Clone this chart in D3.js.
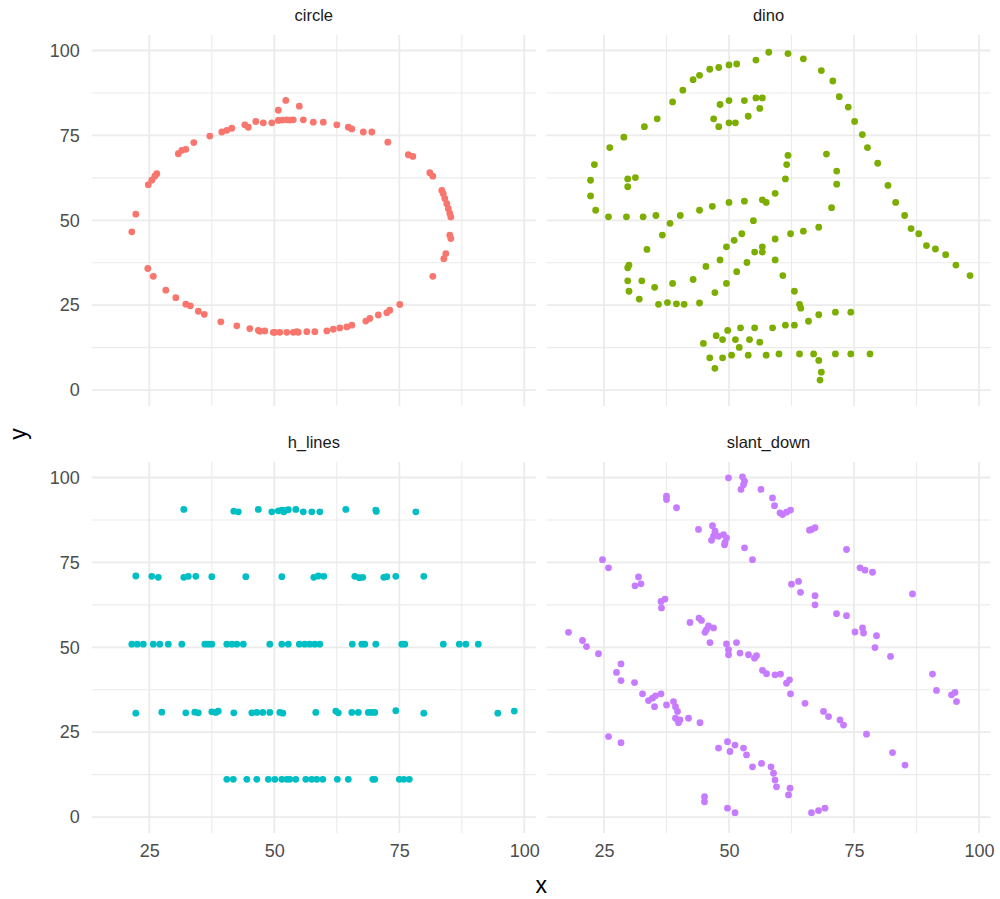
<!DOCTYPE html>
<html>
<head>
<meta charset="utf-8">
<script src="https://cdn.jsdelivr.net/npm/d3@7"></script>
<style>
  html, body { margin: 0; padding: 0; background: #fff; }
  svg { display: block; }
  text { font-family: "Liberation Sans", Arial, sans-serif; }
</style>
</head>
<body>
<svg id="chart" width="1000" height="899"></svg>
<script>
// ---- data: four of the Datasaurus shapes ----
const datasetNames = ["circle", "dino", "h_lines", "slant_down"];
const datasetColors = ["#F8766D", "#7CAE00", "#00BFC4", "#C77CFF"];

const circleX = [52.3,50.8,55.0,44.1,44.8,46.3,47.8,49.5,50.8,52.5,53.8,55.8,57.8,59.8,62.5,64.8,65.5,67.8,69.5,72.7,76.8,77.7,81.1,81.7,83.5,83.8,84.1,84.5,84.8,85.1,85.3,85.1,85.3,84.3,83.9,81.7,75.1,73.1,72.5,70.8,69.1,68.3,65.5,64.5,63.1,61.8,60.5,58.1,56.5,54.5,54.8,53.8,52.5,51.1,49.8,48.1,46.8,45.1,42.5,39.3,36.0,34.8,33.2,32.3,30.3,28.3,25.8,24.7,21.5,22.3,24.8,25.5,26.1,26.5,30.8,31.5,32.3,33.9,37.1,39.5,40.5,41.5,51.6,53.1,47.1,50.1];
const circleY = [85.3,82.4,83.6,78.1,77.4,79.1,78.7,78.7,79.4,79.6,79.6,79.6,78.9,78.9,78.1,77.4,76.9,76.0,76.0,73.0,69.3,68.8,64.0,63.0,58.8,57.8,56.4,54.9,53.4,52.0,51.0,45.6,44.6,40.2,38.7,33.5,25.2,23.5,22.8,22.1,21.1,20.3,19.1,18.6,18.3,17.9,17.4,17.2,17.2,17.2,17.0,17.0,17.0,17.0,17.0,17.4,17.6,18.1,18.9,20.1,22.3,23.2,24.8,25.3,27.2,29.4,33.5,35.8,46.6,51.8,60.5,61.8,63.0,63.7,69.6,70.6,70.9,72.9,74.8,76.0,76.5,77.1,79.5,79.5,17.3,17.0];

const dinoX = [55.3846,51.5385,46.1538,42.8205,40.7692,38.7179,35.6410,33.0769,28.9744,26.1538,23.0769,22.3077,22.3077,23.3333,25.8974,29.4872,32.8205,35.3846,40.2564,44.1026,46.6667,50.0000,53.0769,56.6667,59.2308,61.2821,61.5385,61.7949,57.4359,54.8718,52.5641,48.2051,49.4872,51.0256,45.3846,42.8205,38.7179,35.1282,32.5641,30.0000,33.5897,36.6667,38.2051,29.7436,29.7436,30.0000,32.0513,35.8974,41.0256,44.1026,47.1795,49.4872,51.5385,53.5897,55.1282,56.6667,59.2308,62.3077,64.8718,67.9487,70.5128,71.5385,71.5385,69.4872,46.9231,48.2051,50.0000,53.0769,55.3846,56.6667,56.1538,53.8462,51.2821,50.0000,47.9487,29.7436,29.7436,31.2821,57.9487,61.7949,64.8718,68.4615,70.7692,72.0513,73.8462,75.1282,76.6667,77.6923,79.7436,81.7949,83.3333,85.1282,86.4103,87.9487,89.4872,93.3333,95.3846,98.2051,56.6667,59.2308,60.7692,63.0769,64.1026,64.3590,74.3590,71.2821,67.9487,65.8974,63.0769,61.2821,58.7179,55.1282,52.3077,49.7436,47.4359,44.8718,48.7179,51.2821,54.1026,56.1538,52.0513,48.7179,47.1795,46.1538,50.5128,53.8462,57.4359,60.0000,64.1026,66.9231,71.2821,74.3590,78.2051,67.9487,68.4615,68.2051,37.6923,39.4872,91.2821,50.0000,47.9487,44.1026];
const dinoY = [97.1795,96.0256,94.4872,91.4103,88.3333,84.8718,79.8718,77.5641,74.4872,71.4103,66.4103,61.7949,57.1795,52.9487,51.0256,51.0256,51.0256,51.4103,51.4103,52.9487,54.1026,55.2564,55.6410,56.0256,57.9487,62.1795,66.4103,69.1026,55.2564,49.8718,46.0256,38.3333,42.1795,44.1026,36.4103,32.5641,31.4103,30.2564,32.1795,36.7949,41.4103,45.6410,49.1026,36.0256,32.1795,29.1026,26.7949,25.2564,25.2564,25.6410,28.7180,31.4103,34.8718,37.5641,40.6410,42.1795,44.4872,46.0256,46.7949,47.9487,53.7180,60.6410,64.4872,69.4872,79.8718,84.1026,85.2564,85.2564,86.0256,86.0256,82.9487,80.6410,78.7180,78.7180,77.5641,59.8718,62.1795,62.5641,99.4872,99.1026,97.5641,94.1026,91.0256,86.4103,83.3333,79.1026,75.2564,71.4103,66.7949,60.2564,55.2564,51.4103,47.5641,46.0256,42.5641,39.8718,36.7949,33.7180,40.6410,38.3333,33.7180,29.1026,25.2564,24.1026,22.9487,22.9487,22.1795,20.2564,19.1026,19.1026,18.3333,18.3333,18.3333,17.5641,16.0256,13.7180,14.8718,14.8718,14.8718,14.1026,12.5641,9.4872,6.4103,9.4872,10.2564,10.2564,10.2564,10.6410,10.6410,10.6410,10.6410,10.6410,10.6410,8.7180,5.2564,2.9487,25.7692,25.3846,41.5385,95.7692,95.0000,92.6923];

// h_lines, one pair of arrays per line of points
const hLine90X = [31.9,41.9,42.8,46.8,49.5,50.8,51.5,52.1,52.8,51.9,54.3,55.8,57.5,59.1,64.3,70.3,70.4,78.3];
const hLine90Y = [90.6,90.1,89.9,90.6,89.9,90.2,90.4,90.3,90.5,89.9,90.6,89.9,89.9,89.9,90.6,90.4,90.0,89.9];
const hLine70X = [22.3,25.5,26.8,31.9,32.8,34.3,37.5,44.3,51.5,57.9,58.8,59.9,66.1,67.0,67.7,71.9,72.5,74.3,79.9];
const hLine70Y = [71.0,70.9,70.6,70.6,70.9,70.9,70.8,70.8,70.8,70.6,71.0,70.9,70.9,70.5,70.6,70.6,70.8,70.9,70.9];
const hLine50X = [21.5,22.6,23.8,25.8,27.1,28.8,31.5,36.1,36.8,37.5,40.5,41.5,42.5,43.8,49.1,51.5,52.8,55.0,56.1,57.1,58.1,59.1,65.6,67.5,68.1,70.3,75.5,76.1,83.8,87.0,88.3,90.8];
const hLine50Y = [50.9,50.9,50.9,50.9,50.9,50.9,50.9,50.9,50.9,50.9,50.9,50.9,50.9,50.9,50.9,50.9,50.9,50.9,50.9,50.9,50.9,50.9,50.9,50.9,50.9,50.9,50.9,50.9,50.9,50.9,50.9,50.9];
const hLine30X = [22.3,27.5,32.3,34.1,34.8,37.5,38.3,38.8,41.9,45.5,46.5,47.7,49.1,51.1,51.7,58.3,62.3,62.8,65.5,66.8,68.8,69.5,70.1,74.3,79.9,94.7,98.0];
const hLine30Y = [30.6,30.9,30.7,30.9,30.7,31.0,30.8,31.2,30.7,30.7,30.8,30.8,30.8,30.8,30.6,30.8,31.2,30.7,30.8,30.8,30.8,30.8,30.8,31.3,30.6,30.6,31.2];
const hLine10X = [40.5,41.8,44.5,46.5,48.8,50.1,51.5,52.5,53.1,54.3,56.3,57.5,58.5,59.7,62.6,64.8,69.7,70.1,75.0,75.9,77.0];
const hLine10Y = [11.1,11.1,11.1,11.1,11.1,11.1,11.1,11.1,11.1,11.1,11.1,11.1,11.1,11.1,11.1,11.1,11.1,11.1,11.1,11.1,11.1];

const slantDownX = [49.9,52.7,53.1,52.9,52.4,56.4,58.7,59.1,60.2,37.5,37.5,39.5,43.9,46.7,47.2,46.9,46.5,47.9,48.9,49.5,49.2,49.1,53.1,54.7,24.7,25.9,31.9,31.2,32.4,36.4,37.2,36.5,42.2,44.0,44.5,45.9,46.9,45.2,45.5,46.2,49.5,51.5,17.9,20.7,21.5,
  60.7,61.5,62.3,66.1,66.5,67.2,73.5,76.2,77.2,78.7,86.7,62.5,63.9,64.3,67.2,67.2,71.5,73.5,75.2,76.7,76.9,79.5,79.2,
  23.9,28.4,27.5,28.4,31.1,32.7,33.9,34.7,35.3,36.4,35.1,37.5,38.9,39.3,39.7,39.3,39.9,40.2,41.9,44.2,25.9,28.4,49.9,49.9,52.2,53.9,55.1,55.5,56.7,57.5,59.2,47.9,49.7,50.2,51.2,52.9,53.5,54.7,56.5,58.4,58.9,59.2,59.5,45.1,45.1,49.7,51.2,
  82.3,90.7,91.5,94.5,95.2,95.5,60.3,61.5,62.1,62.3,65.2,68.9,69.9,72.2,72.9,77.5,82.7,85.2,62.2,61.9,66.5,67.9,69.2];
const slantDownY = [99.9,100.2,98.9,97.9,96.5,96.5,94.0,91.7,89.6,94.5,93.5,91.1,84.7,85.8,84.2,82.7,81.5,82.7,83.2,82.2,80.8,80.2,79.3,75.8,75.8,73.4,70.7,68.1,68.7,63.5,64.2,61.6,57.3,58.6,57.9,56.3,55.7,54.4,55.2,51.4,51.0,51.4,54.4,52.0,50.2,
  89.1,89.8,90.4,84.5,84.7,85.2,78.8,73.4,72.7,72.1,65.7,68.6,69.4,66.2,65.2,62.5,59.9,59.3,54.5,55.7,54.2,53.4,49.9,
  48.1,45.1,42.6,40.2,39.6,36.3,34.3,35.0,35.7,36.3,32.5,33.0,34.0,32.5,31.1,29.1,27.8,28.6,29.1,27.8,23.7,21.9,49.3,47.8,48.3,47.8,46.8,47.5,43.2,42.2,41.9,20.3,22.2,19.3,21.2,20.3,18.3,14.8,15.8,14.8,12.9,10.9,8.9,6.0,4.5,2.6,1.3,
  47.3,42.1,37.3,36.0,36.7,34.0,42.1,39.4,40.4,36.3,33.5,31.1,29.6,28.6,27.1,24.4,19.0,15.3,8.5,6.5,1.3,1.9,2.6];

const xTickValues = [25, 50, 75, 100];
const xMinorValues = [37.5, 62.5, 87.5];
const yTickValues = [0, 25, 50, 75, 100];
const yMinorValues = [12.5, 37.5, 62.5, 87.5];

// pair up x/y arrays into point records per facet
const toPoints = (xs, ys) => xs.map((v, k) => ({ x: v, y: ys[k] }));
const hLinesPoints = [].concat(
  toPoints(hLine90X, hLine90Y), toPoints(hLine70X, hLine70Y), toPoints(hLine50X, hLine50Y),
  toPoints(hLine30X, hLine30Y), toPoints(hLine10X, hLine10Y));
const facetPoints = [
  toPoints(circleX, circleY),
  toPoints(dinoX, dinoY),
  hLinesPoints,
  toPoints(slantDownX, slantDownY)
];

// ---- layout ----
const svg = d3.select("#chart");
const xDomain = [13.5, 102.3];
const yDomain = [-4.7, 104.6];
const colRanges = [[91.8, 535.8], [546.5, 990.5]];
const rowRanges = [[406, 34.9], [833, 461.9]];
const gridColor = "#EBEBEB";
const fontStack = "'Liberation Sans', Arial, sans-serif";

datasetNames.forEach((name, i) => {
  const row = Math.floor(i / 2), col = i % 2;
  const x = d3.scaleLinear().domain(xDomain).range(colRanges[col]);
  const y = d3.scaleLinear().domain(yDomain).range(rowRanges[row]);
  const g = svg.append("g");
  const [x0, x1] = x.range();
  const [y0, y1] = y.range();

  // minor grid
  g.append("g").selectAll("line").data(yMinorValues).join("line")
    .attr("x1", x0).attr("x2", x1).attr("y1", d => y(d)).attr("y2", d => y(d))
    .attr("stroke", gridColor).attr("stroke-width", 1.1);
  g.append("g").selectAll("line").data(xMinorValues).join("line")
    .attr("y1", y0).attr("y2", y1).attr("x1", d => x(d)).attr("x2", d => x(d))
    .attr("stroke", gridColor).attr("stroke-width", 1.1);
  // major grid
  g.append("g").selectAll("line").data(yTickValues).join("line")
    .attr("x1", x0).attr("x2", x1).attr("y1", d => y(d)).attr("y2", d => y(d))
    .attr("stroke", gridColor).attr("stroke-width", 1.8);
  g.append("g").selectAll("line").data(xTickValues).join("line")
    .attr("y1", y0).attr("y2", y1).attr("x1", d => x(d)).attr("x2", d => x(d))
    .attr("stroke", gridColor).attr("stroke-width", 1.8);

  // facet strip title
  svg.append("text")
    .attr("x", (x0 + x1) / 2).attr("y", y1 - 14)
    .attr("text-anchor", "middle")
    .attr("font-size", 16.5).attr("fill", "#1A1A1A")
    .text(name);

  // axes: labels only on the outer panels
  if (col === 0) {
    const ax = svg.append("g").attr("transform", `translate(${x0 - 9},0)`)
      .call(d3.axisLeft(y).tickValues(yTickValues).tickSize(0).tickPadding(3));
    ax.select(".domain").remove();
    ax.selectAll("text").attr("font-size", 18).attr("fill", "#4D4D4D")
      .attr("font-family", fontStack);
  }
  if (row === 1) {
    const ax = svg.append("g").attr("transform", `translate(0,${y0 + 8})`)
      .call(d3.axisBottom(x).tickValues(xTickValues).tickSize(0).tickPadding(3));
    ax.select(".domain").remove();
    ax.selectAll("text").attr("font-size", 18).attr("fill", "#4D4D4D")
      .attr("font-family", fontStack);
  }

  // points
  g.append("g").selectAll("circle").data(facetPoints[i]).join("circle")
    .attr("cx", d => x(d.x))
    .attr("cy", d => y(d.y))
    .attr("r", 3.4)
    .attr("fill", datasetColors[i]);
});

// axis titles
svg.append("text").attr("x", (colRanges[0][0] + colRanges[1][1]) / 2).attr("y", 893)
  .attr("text-anchor", "middle").attr("font-size", 23).attr("fill", "#000").text("x");
svg.append("text")
  .attr("transform", `translate(26,${(rowRanges[0][1] + rowRanges[1][0]) / 2}) rotate(-90)`)
  .attr("text-anchor", "middle").attr("font-size", 23).attr("fill", "#000").text("y");
</script>
</body>
</html>
